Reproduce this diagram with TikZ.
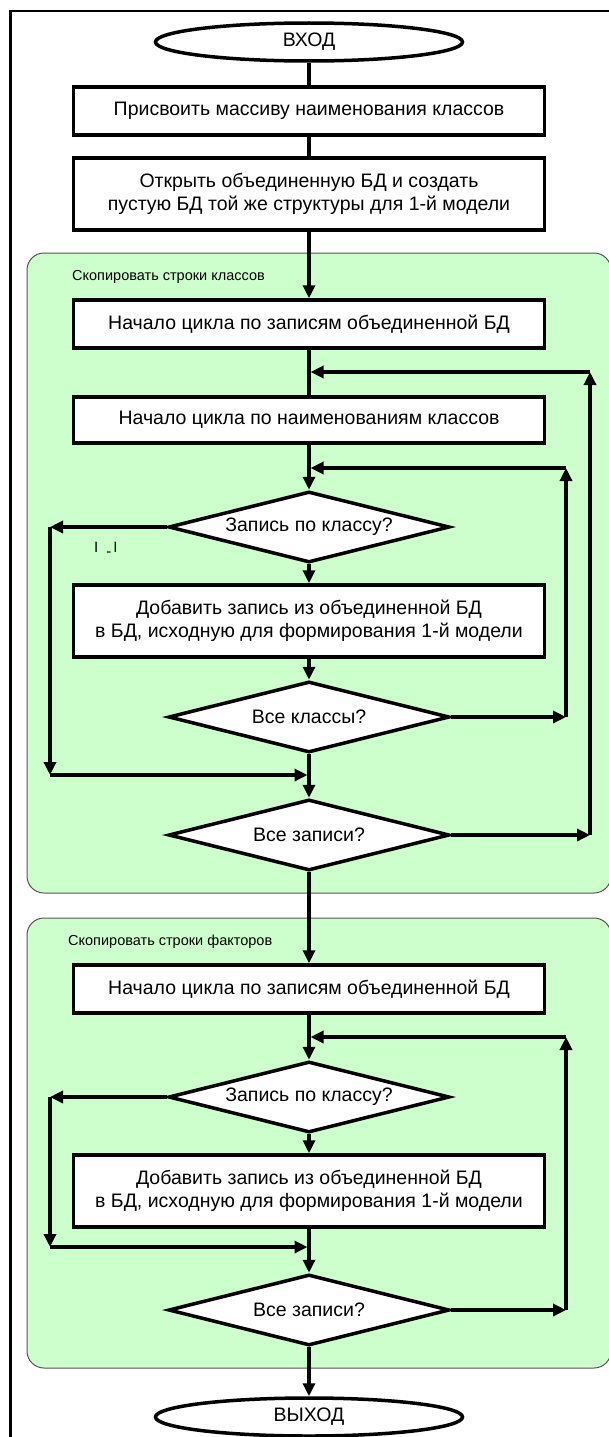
\documentclass[tikz,border=0pt]{standalone}
\usepackage{fontspec}
\setmainfont{Liberation Sans}
\usetikzlibrary{shapes.geometric,arrows.meta}
\definecolor{grp}{RGB}{204,255,204}
\definecolor{grpline}{RGB}{85,85,85}
\begin{document}
\begin{tikzpicture}[x=1pt,y=-1pt,
  box/.style={draw,line width=3.5pt,fill=white,minimum width=471pt,inner sep=0pt,align=center,font=\fontsize{19.5}{23}\selectfont},
  dec/.style={draw,diamond,aspect=3.96,line width=3.5pt,fill=white,minimum width=281pt,minimum height=71pt,inner sep=0pt,font=\fontsize{19.5}{23}\selectfont},
  term/.style={draw,ellipse,line width=3.5pt,fill=white,minimum width=307pt,minimum height=38pt,inner sep=0pt,font=\fontsize{19.5}{23}\selectfont},
  grpbox/.style={draw=grpline,fill=grp,line width=1pt,rounded corners=17pt},
  flow/.style={line width=3.5pt},
  arr/.style={line width=3.5pt,-{Triangle[length=13pt,width=12pt]}},
  glabel/.style={anchor=west,font=\fontsize{14.5}{16}\selectfont,inner sep=0pt},
]
\useasboundingbox (0,0) rectangle (609,1437);
% outer frame
\draw[line width=2.5pt] (10.5,1437) -- (10.5,11) -- (609,11);
% groups
\draw[grpbox] (27,253) rectangle (611,893);
\draw[grpbox] (27,918) rectangle (611,1368);
\node[glabel] (g1) at (72,277) {Скопировать строки классов};
\node[glabel] (g2) at (68,942) {Скопировать строки факторов};
% nodes
\node[term] (in) at (309,42) {ВХОД};
\node[box,minimum height=48pt] (b1) at (309,111) {Присвоить массиву наименования классов};
\node[box,minimum height=72pt] (b2) at (309,194) {Открыть объединенную БД и создать\\пустую БД той же структуры для 1-й модели};
\node[box,minimum height=48pt] (b3) at (309,324) {Начало цикла по записям объединенной БД};
\node[box,minimum height=46pt] (b4) at (309,420) {Начало цикла по наименованиям классов};
\node[dec] (d1) at (309,527) {Запись по классу?};
\node[anchor=west,inner sep=0pt,font=\fontsize{15}{17}\selectfont] (lbl) at (94,549) {I\hspace{8pt}\raisebox{-0.5ex}{-}\hspace{2pt}I};
\node[box,minimum height=72pt] (b5) at (309,621) {Добавить запись из объединенной БД\\в БД, исходную для формирования 1-й модели};
\node[dec] (d2) at (309,717) {Все классы?};
\node[dec] (d3) at (309,835) {Все записи?};
\node[box,minimum height=48pt] (b6) at (309,989) {Начало цикла по записям объединенной БД};
\node[dec] (d4) at (309,1097) {Запись по классу?};
\node[box,minimum height=72pt] (b7) at (309,1191) {Добавить запись из объединенной БД\\в БД, исходную для формирования 1-й модели};
\node[dec] (d5) at (309,1310) {Все записи?};
\node[term] (out) at (309,1417) {ВЫХОД};
% coordinates for loops
\coordinate (l1a) at (50,527);
\coordinate (l1b) at (50,775);
\coordinate (j1) at (307.5,775);
\coordinate (r2a) at (566,717);
\coordinate (r2b) at (566,468);
\coordinate (j2) at (310.5,468);
\coordinate (r1a) at (590,835);
\coordinate (r1b) at (590,372);
\coordinate (j3) at (310.5,372);
\coordinate (l2a) at (50,1097);
\coordinate (l2b) at (50,1247);
\coordinate (j4) at (307.5,1247);
\coordinate (r3a) at (566,1310);
\coordinate (r3b) at (566,1037);
\coordinate (j5) at (310.5,1037);
% main flow
\draw[flow] (in) -- (b1);
\draw[flow] (b1) -- (b2);
\draw[arr] (b2) -- (b3);
\draw[flow] (b3) -- (b4);
\draw[arr] (b4) -- (d1);
\draw[arr] (d1) -- (b5);
\draw[arr] (b5) -- (d2);
\draw[arr] (d2) -- (d3);
\draw[arr] (d3) -- (b6);
\draw[arr] (b6) -- (d4);
\draw[arr] (d4) -- (b7);
\draw[arr] (b7) -- (d5);
\draw[arr] (d5) -- (out);
% loops group 1
\draw[arr] (d1.west) -- (l1a);
\draw[arr] (l1a) -- (l1b);
\draw[arr] (l1b) -- (j1);
\draw[arr] (d2.east) -- (r2a);
\draw[arr] (r2a) -- (r2b);
\draw[arr] (r2b) -- (j2);
\draw[arr] (d3.east) -- (r1a);
\draw[arr] (r1a) -- (r1b);
\draw[arr] (r1b) -- (j3);
% loops group 2
\draw[arr] (d4.west) -- (l2a);
\draw[arr] (l2a) -- (l2b);
\draw[arr] (l2b) -- (j4);
\draw[arr] (d5.east) -- (r3a);
\draw[arr] (r3a) -- (r3b);
\draw[arr] (r3b) -- (j5);
\end{tikzpicture}
\end{document}
